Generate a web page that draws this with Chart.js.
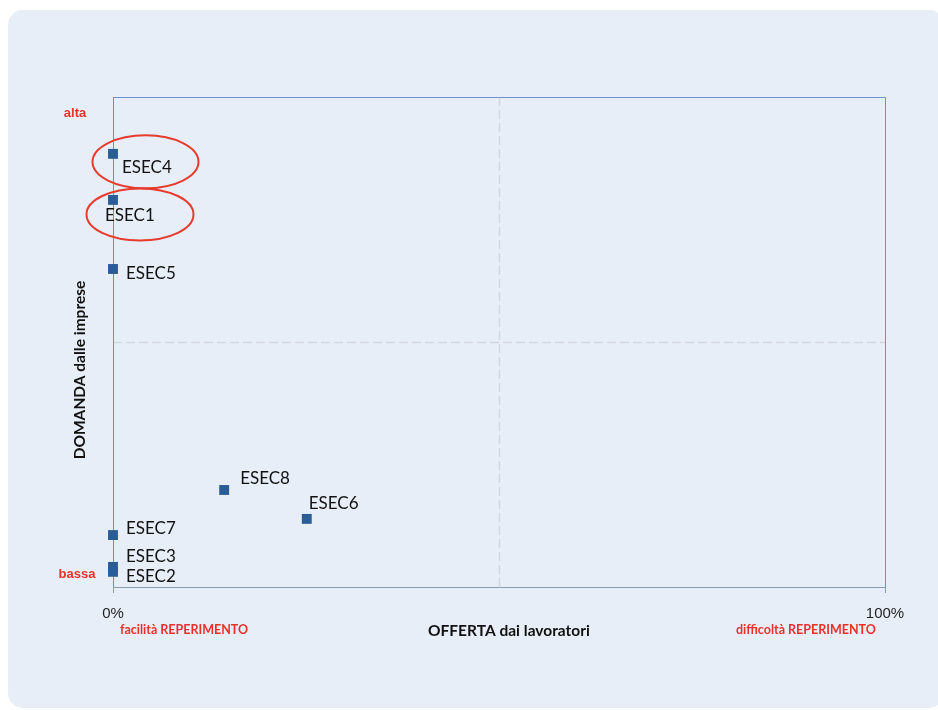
<!DOCTYPE html>
<html>
<head>
<meta charset="utf-8">
<script src="https://cdn.jsdelivr.net/npm/chart.js@4/dist/chart.umd.min.js"></script>
<style>
  html, body { margin: 0; padding: 0; background: #ffffff; width: 938px; height: 710px; overflow: hidden; }
  #panel { position: absolute; left: 8px; top: 10px; width: 936px; height: 698px; background: #e8eef8; border-radius: 15px; }
  #wrap { position: absolute; left: 0; top: 0; width: 938px; height: 710px; }
</style>
</head>
<body>
<div id="panel"></div>
<div id="wrap"><canvas id="c" width="938" height="710"></canvas></div>
<script>
// ---- data ----
const labels  = ["ESEC4", "ESEC1", "ESEC5", "ESEC8", "ESEC6", "ESEC7", "ESEC3", "ESEC2"];
const offerta = [0, 0, 0, 0.144, 0.251, 0, 0, 0];           // x: OFFERTA dai lavoratori (0..1)
const domanda = [0.884, 0.790, 0.649, 0.198, 0.139, 0.106, 0.041, 0.031]; // y: DOMANDA dalle imprese (0..1)
const xTickValues = [0, 1];
const xTickLabels = ["0%", "100%"];
const highlighted = ["ESEC4", "ESEC1"];
const xTitle = "OFFERTA dai lavoratori";
const yTitle = "DOMANDA dalle imprese";
const yHigh = "alta", yLow = "bassa";
const xLow = "facilità REPERIMENTO", xHigh = "difficoltà REPERIMENTO";

// ---- styles (label offsets in px relative to point) ----
const labelOffsets = {
  ESEC4: [9, 14], ESEC1: [-8, 16], ESEC5: [13, 5], ESEC8: [16, -11],
  ESEC6: [2, -15], ESEC7: [13, -7], ESEC3: [13, -10], ESEC2: [13, 5]
};
const ellipseStyle = {
  ESEC4: { dx: 32.5, dy: 8, rx: 53, ry: 26.5 },
  ESEC1: { dx: 27, dy: 14.5, rx: 53.5, ry: 26 }
};

const points = labels.map((l, i) => ({ x: offerta[i], y: domanda[i], label: l }));

const overlay = {
  id: 'overlay',
  beforeDatasetsDraw(chart) {
    const { ctx, chartArea: a, scales: { x, y } } = chart;
    ctx.save();
    // dashed midlines
    ctx.strokeStyle = '#d3d7de';
    ctx.lineWidth = 1.5;
    ctx.setLineDash([9, 4]);
    const mx = Math.round(x.getPixelForValue(0.5)) + 0.5;
    const my = Math.round(y.getPixelForValue(0.5)) + 0.5;
    ctx.beginPath(); ctx.moveTo(mx, a.top); ctx.lineTo(mx, a.bottom); ctx.stroke();
    ctx.beginPath(); ctx.moveTo(a.left, my); ctx.lineTo(a.right, my); ctx.stroke();
    ctx.setLineDash([]);
    // plot border: top & right blue
    ctx.lineWidth = 1;
    ctx.strokeStyle = '#6f93c9';
    ctx.beginPath();
    ctx.moveTo(a.left, a.top + 0.5); ctx.lineTo(a.right + 0.5, a.top + 0.5); ctx.lineTo(a.right + 0.5, a.bottom);
    ctx.stroke();
    // left axis (blue)
    ctx.strokeStyle = '#6b8fc6';
    ctx.beginPath(); ctx.moveTo(a.left + 0.5, a.top); ctx.lineTo(a.left + 0.5, a.bottom + 6); ctx.stroke();
    // bottom axis (gray) and tick marks
    ctx.strokeStyle = '#8c9bb0';
    ctx.beginPath(); ctx.moveTo(a.left, a.bottom + 0.5); ctx.lineTo(a.right + 1, a.bottom + 0.5); ctx.stroke();
    xTickValues.forEach(v => {
      const px = Math.round(x.getPixelForValue(v)) + 0.5;
      ctx.beginPath(); ctx.moveTo(px, a.bottom); ctx.lineTo(px, a.bottom + 6); ctx.stroke();
    });
    // tick labels
    ctx.fillStyle = '#1f1f1f';
    ctx.font = '15px "Liberation Sans", Arial, sans-serif';
    ctx.textAlign = 'center'; ctx.textBaseline = 'middle';
    xTickValues.forEach((v, i) => ctx.fillText(xTickLabels[i], x.getPixelForValue(v), a.bottom + 27));
    // axis titles
    ctx.fillStyle = '#111';
    ctx.font = 'bold 15.5px Lato, "Open Sans", sans-serif';
    ctx.fillText(xTitle, 509, a.bottom + 44);
    ctx.save();
    ctx.translate(80, 370);
    ctx.rotate(-Math.PI / 2);
    ctx.fillText(yTitle, 0, 0);
    ctx.restore();
    // red qualifiers
    ctx.fillStyle = '#e8312b';
    ctx.font = 'bold 13px "Liberation Sans", Arial, sans-serif';
    ctx.textAlign = 'center';
    ctx.fillText(yHigh, 75, 113);
    ctx.fillText(yLow, 77, 574);
    ctx.font = 'bold 12.5px Lato, "Open Sans", sans-serif';
    ctx.textAlign = 'left';
    ctx.fillText(xLow, 120, 630);
    ctx.fillText(xHigh, 736, 630);
    ctx.restore();
  },
  afterDatasetsDraw(chart) {
    const { ctx, scales: { x, y } } = chart;
    ctx.save();
    ctx.fillStyle = '#111';
    ctx.font = '17px Lato, "Open Sans", sans-serif';
    ctx.textAlign = 'left'; ctx.textBaseline = 'middle';
    points.forEach(p => {
      const px = x.getPixelForValue(p.x), py = y.getPixelForValue(p.y);
      const o = labelOffsets[p.label] || [10, 0];
      ctx.fillText(p.label, px + o[0], py + o[1]);
    });
    // red ellipses
    ctx.strokeStyle = '#e63b2e';
    ctx.lineWidth = 2;
    points.filter(p => highlighted.includes(p.label)).forEach(p => {
      const e = ellipseStyle[p.label];
      const px = x.getPixelForValue(p.x), py = y.getPixelForValue(p.y);
      ctx.beginPath();
      ctx.ellipse(px + e.dx, py + e.dy, e.rx, e.ry, 0, 0, Math.PI * 2);
      ctx.stroke();
    });
    ctx.restore();
  }
};

new Chart(document.getElementById('c'), {
  type: 'scatter',
  data: {
    datasets: [{
      data: points,
      pointStyle: 'rect',
      pointRadius: 7,
      pointHoverRadius: 7,
      backgroundColor: '#2a5c96',
      borderColor: '#2a5c96',
      borderWidth: 0,
      clip: false
    }]
  },
  options: {
    responsive: false,
    animation: false,
    events: [],
    layout: { padding: { left: 113, top: 97, right: 53, bottom: 123 } },
    plugins: { legend: { display: false }, tooltip: { enabled: false } },
    scales: {
      x: { type: 'linear', min: 0, max: 1, display: false },
      y: { type: 'linear', min: 0, max: 1, display: false }
    }
  },
  plugins: [overlay]
});
</script>
</body>
</html>
